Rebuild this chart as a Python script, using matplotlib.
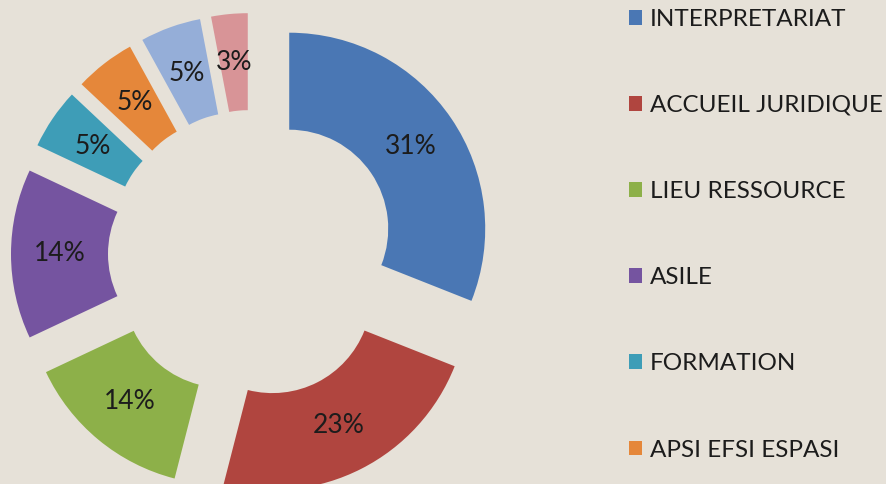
import matplotlib.pyplot as plt
from matplotlib.patches import Patch

categories = ['INTERPRETARIAT', 'ACCUEIL JURIDIQUE', 'LIEU RESSOURCE', 'ASILE',
              'FORMATION', 'APSI EFSI ESPASI', '', '']
values = [31, 23, 14, 14, 5, 5, 5, 3]
colors = ['#4A77B4', '#B0453F', '#8DB049', '#7554A0',
          '#3E9DB7', '#E5873A', '#95AED8', '#D89497']
bg = '#E6E1D8'

plt.rcParams['font.family'] = ['Lato', 'DejaVu Sans']

fig = plt.figure(figsize=(8.87, 4.84), dpi=100, facecolor=bg)
ax = fig.add_axes([0, 0, 1, 1])
ax.set_facecolor(bg)

wedges, texts, autotexts = ax.pie(
    values, colors=colors, startangle=90, counterclock=False,
    center=(252, 230), radius=196, explode=[45] * len(values),
    wedgeprops=dict(width=97, linewidth=0), autopct='%d%%', pctdistance=0.75,
    textprops=dict(fontsize=19, color='#1c1c1c'), frame=True)
ax.set_xlim(0, 887)
ax.set_ylim(0, 484)
ax.set_aspect('equal')
ax.axis('off')

handles = [Patch(facecolor=c, edgecolor='none') for c in colors[:6]]
ax.legend(handles, categories[:6], loc='upper left', bbox_to_anchor=(607 / 887, 1.027),
          frameon=False, fontsize=17.5, handlelength=0.56, handleheight=0.56,
          handletextpad=0.3, labelspacing=2.68, labelcolor='#1c1c1c')

fig.savefig('out.png', dpi=100, facecolor=bg)
